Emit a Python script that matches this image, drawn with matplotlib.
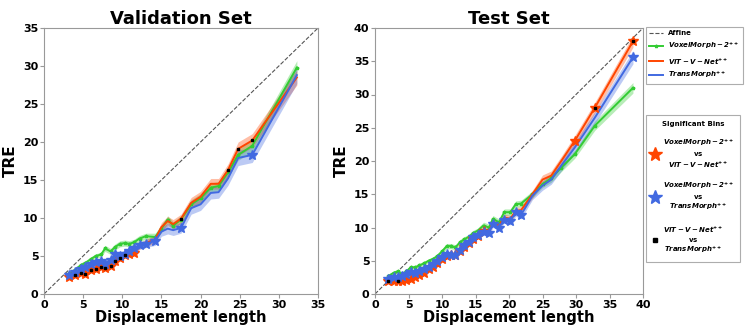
import matplotlib
matplotlib.use('Agg')
import matplotlib.pyplot as plt
import numpy as np
from matplotlib.lines import Line2D

# ---- validation set ----
val_x = [3.2, 4.0, 4.7, 5.3, 6.0, 6.6, 7.3, 7.8, 8.5, 9.1, 9.7, 10.3, 10.9, 11.5, 12.2,
         13.0, 14.2, 15.0, 15.8, 16.5, 17.5, 18.8, 20.0, 21.3, 22.3, 23.5, 24.8, 26.6, 32.3]
val_vm = [2.7, 3.2, 3.8, 4.1, 4.6, 5.0, 5.2, 6.0, 5.6, 6.2, 6.6, 6.7, 6.6, 6.8, 7.3,
          7.6, 7.5, 8.6, 9.8, 9.0, 9.8, 11.8, 12.6, 14.0, 14.2, 16.0, 18.3, 19.5, 29.8]
val_vit = [2.3, 2.5, 2.8, 2.6, 3.1, 3.3, 3.5, 3.4, 3.7, 4.4, 4.7, 5.1, 5.3, 5.4, 6.3,
           6.7, 7.2, 8.8, 9.6, 9.2, 9.9, 12.0, 12.8, 14.5, 14.5, 16.3, 19.1, 20.2, 28.5]
val_tm = [2.5, 2.9, 3.3, 3.6, 4.0, 4.2, 4.3, 4.0, 4.5, 5.2, 5.0, 5.3, 5.6, 6.0, 6.4,
          6.6, 7.0, 8.2, 8.6, 8.4, 8.7, 11.3, 11.8, 13.3, 13.4, 15.2, 17.9, 18.3, 28.8]
val_vm_sd = [0.3, 0.3, 0.3, 0.3, 0.3, 0.3, 0.3, 0.4, 0.4, 0.4, 0.4, 0.4, 0.4, 0.4, 0.4,
             0.4, 0.5, 0.5, 0.5, 0.5, 0.5, 0.6, 0.6, 0.6, 0.6, 0.7, 0.7, 0.8, 0.9]
val_vit_sd = [0.3, 0.3, 0.3, 0.3, 0.3, 0.3, 0.3, 0.3, 0.4, 0.4, 0.4, 0.4, 0.4, 0.4, 0.4,
              0.5, 0.5, 0.6, 0.6, 0.6, 0.6, 0.7, 0.7, 0.7, 0.7, 0.8, 0.9, 0.9, 1.0]
val_tm_sd = [0.3, 0.3, 0.3, 0.4, 0.4, 0.4, 0.4, 0.4, 0.4, 0.5, 0.5, 0.5, 0.5, 0.5, 0.5,
             0.5, 0.6, 0.6, 0.7, 0.7, 0.7, 0.8, 0.8, 0.8, 0.8, 0.9, 1.0, 1.0, 1.1]
# significant bins (indices into val_x)
val_sig_vm_vit = [0, 1, 2, 3, 4, 5, 6, 7, 8, 9, 10, 11, 12, 13]
val_sig_vm_tm = [0, 1, 2, 3, 4, 5, 6, 7, 8, 9, 10, 11, 12, 13, 14, 15, 16, 20, 27]
val_sig_vit_tm = [1, 2, 3, 4, 5, 6, 7, 8, 9, 10, 11, 20, 25, 26, 27]

# ---- test set ----
test_x = [2.0, 2.8, 3.4, 4.0, 4.7, 5.3, 6.0, 6.6, 7.3, 8.0, 8.7, 9.3, 10.0, 10.7, 11.3,
          12.0, 12.7, 13.3, 14.0, 14.7, 15.3, 16.2, 17.0, 17.6, 18.5, 19.3, 20.2, 21.0,
          21.8, 23.5, 25.0, 26.3, 27.8, 29.8, 32.8, 38.5]
test_vm = [2.7, 3.2, 3.4, 3.0, 3.4, 4.0, 4.0, 4.3, 4.6, 5.0, 5.3, 5.7, 6.4, 7.2, 7.2,
           7.0, 7.8, 8.2, 8.6, 9.2, 9.5, 10.3, 10.0, 11.3, 10.8, 12.3, 12.3, 13.5, 13.6,
           15.0, 16.5, 17.4, 19.0, 21.0, 25.3, 31.0]
test_vit = [2.0, 1.9, 1.9, 2.0, 2.1, 2.3, 2.6, 2.8, 3.1, 3.7, 4.1, 4.6, 5.2, 5.7, 5.8,
            5.8, 6.5, 7.0, 7.6, 8.3, 8.7, 9.5, 9.3, 10.8, 10.3, 11.5, 11.3, 12.5, 12.6,
            15.0, 17.2, 17.8, 20.0, 23.0, 28.0, 38.0]
test_tm = [2.3, 2.5, 2.6, 2.7, 3.0, 3.3, 3.2, 3.4, 3.7, 4.0, 4.5, 4.9, 5.5, 6.0, 5.9,
           5.9, 6.6, 7.3, 7.8, 8.5, 8.9, 9.3, 9.2, 10.5, 10.0, 11.2, 11.0, 12.3, 11.9,
           14.8, 16.3, 17.2, 19.3, 22.0, 26.5, 35.6]
test_vm_sd = [0.3, 0.3, 0.3, 0.3, 0.3, 0.3, 0.3, 0.3, 0.3, 0.3, 0.3, 0.4, 0.4, 0.4, 0.4,
              0.4, 0.4, 0.4, 0.4, 0.4, 0.4, 0.5, 0.5, 0.5, 0.5, 0.5, 0.5, 0.5, 0.5,
              0.5, 0.5, 0.6, 0.6, 0.6, 0.7, 0.8]
test_vit_sd = [0.3, 0.3, 0.3, 0.3, 0.3, 0.3, 0.3, 0.3, 0.3, 0.3, 0.3, 0.3, 0.3, 0.4, 0.4,
               0.4, 0.4, 0.4, 0.4, 0.4, 0.4, 0.4, 0.4, 0.5, 0.5, 0.5, 0.5, 0.5, 0.5,
               0.6, 0.7, 0.7, 0.7, 0.8, 0.8, 0.9]
test_tm_sd = [0.3, 0.3, 0.3, 0.3, 0.3, 0.3, 0.3, 0.3, 0.3, 0.4, 0.4, 0.4, 0.4, 0.4, 0.4,
              0.4, 0.4, 0.5, 0.5, 0.5, 0.5, 0.5, 0.5, 0.5, 0.5, 0.5, 0.6, 0.6, 0.6,
              0.6, 0.7, 0.7, 0.8, 0.8, 0.9, 1.0]
test_sig_vm_vit = list(range(0, 22)) + [33, 34, 35]
test_sig_vm_tm = list(range(0, 29)) + [35]
test_sig_vit_tm = [0, 2, 34, 35]

c_vm = '#33cc33'
c_vit = '#ff4500'
c_tm = '#4169e1'

lab_vm = r'$\mathbfit{VoxelMorph-2^{++}}$'
lab_vit = r'$\mathbfit{ViT-V-Net^{++}}$'
lab_tm = r'$\mathbfit{TransMorph^{++}}$'

plt.rcParams['font.family'] = 'DejaVu Sans'
plt.rcParams['font.weight'] = 'bold'

fig = plt.figure(figsize=(7.45, 3.26), dpi=100)
ax1 = fig.add_axes([44 / 745, 32 / 326, 274 / 745, 266 / 326])
ax2 = fig.add_axes([375 / 745, 32 / 326, 268 / 745, 266 / 326])


def draw(ax, x, vm, vit, tm, vm_sd, vit_sd, tm_sd, s1, s2, s3, lim, title):
    x = np.array(x)
    ax.plot([0, lim], [0, lim], '--', color='#555555', lw=0.8, label='Affine')
    for y, sd, c, lab, mk in [(vm, vm_sd, c_vm, lab_vm, '*'),
                              (vit, vit_sd, c_vit, lab_vit, None),
                              (tm, tm_sd, c_tm, lab_tm, None)]:
        y = np.array(y)
        sd = np.array(sd)
        ax.fill_between(x, y - sd, y + sd, color=c, alpha=0.35, lw=0)
        ax.plot(x, y, color=c, lw=1.4, marker=mk, ms=2.5, label=lab)
    ax.plot(x[s1], np.array(vit)[s1], '*', color=c_vit, ms=7.5, ls='none')
    ax.plot(x[s2], np.array(tm)[s2], '*', color=c_tm, ms=7.5, ls='none')
    ax.plot(x[s3], np.array(vit)[s3], 's', color='black', ms=2, ls='none')
    ax.set_xlim(0, lim)
    ax.set_ylim(0, lim)
    ax.set_xticks(np.arange(0, lim + 1, 5))
    ax.set_yticks(np.arange(0, lim + 1, 5))
    ax.tick_params(labelsize=8, color='#999999', length=3, pad=1)
    for s in ax.spines.values():
        s.set_color('#999999')
    ax.set_title(title, fontsize=13, fontweight='bold', pad=3)
    ax.set_xlabel('Displacement length', fontsize=10.5, fontweight='bold', labelpad=0)
    ax.set_ylabel('TRE', fontsize=11, fontweight='bold', labelpad=4)


draw(ax1, val_x, val_vm, val_vit, val_tm, val_vm_sd, val_vit_sd, val_tm_sd,
     val_sig_vm_vit, val_sig_vm_tm, val_sig_vit_tm, 35, 'Validation Set')
draw(ax2, test_x, test_vm, test_vit, test_tm, test_vm_sd, test_vit_sd, test_tm_sd,
     test_sig_vm_vit, test_sig_vm_tm, test_sig_vit_tm, 40, 'Test Set')

h, l = ax2.get_legend_handles_labels()
leg1 = fig.legend(h, l, loc='upper left', bbox_to_anchor=(646 / 745, 1 - 27 / 326),
                  fontsize=5, frameon=True, fancybox=False, edgecolor='#999999',
                  handlelength=2.0, handletextpad=0.6, borderpad=0.5, labelspacing=0.6,
                  borderaxespad=0)
leg1.get_frame().set_linewidth(0.8)

sig_h = [Line2D([], [], marker='*', color=c_vit, ms=10, ls='none'),
         Line2D([], [], marker='*', color=c_tm, ms=10, ls='none'),
         Line2D([], [], marker='s', color='black', ms=2.5, ls='none')]
sig_l = [lab_vm + '\n' + r'$\mathbf{vs}$' + '\n' + lab_vit,
         lab_vm + '\n' + r'$\mathbf{vs}$' + '\n' + lab_tm,
         lab_vit + '\n' + r'$\mathbf{vs}$' + '\n' + lab_tm]
leg2 = fig.legend(sig_h, sig_l, loc='upper left', bbox_to_anchor=(646 / 745, 1 - 115 / 326),
                  fontsize=5, frameon=True, fancybox=False, edgecolor='#999999',
                  title='Significant Bins', title_fontproperties={'size': 5, 'weight': 'bold'},
                  handlelength=1.0, borderpad=0.8, labelspacing=1.6, handletextpad=0.6,
                  borderaxespad=0)
leg2.get_frame().set_linewidth(0.8)
for t in leg2.get_texts():
    t.set_multialignment('center')

fig.savefig('out.png', dpi=100)
